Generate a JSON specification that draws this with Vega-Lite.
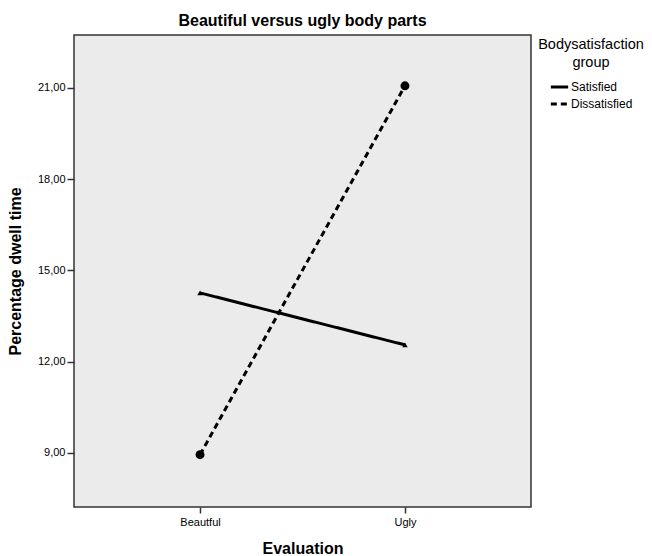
{
  "$schema": "https://vega.github.io/schema/vega-lite/v6.json",
  "autosize": {"type": "none"},
  "padding": {"left": 74, "top": 35, "right": 121, "bottom": 49},
  "width": 457,
  "height": 472,
  "background": "white",
  "config": {
    "font": "Liberation Sans",
    "view": {"fill": "#ebebeb", "stroke": "#333333", "strokeWidth": 1.5}
  },
  "title": {
    "text": "Beautiful versus ugly body parts",
    "fontSize": 16,
    "fontWeight": "bold",
    "color": "#000000",
    "anchor": "middle",
    "offset": 6
  },
  "data": {
    "values": [
      {"Evaluation": "Beautful", "group": "Satisfied", "value": 14.26},
      {"Evaluation": "Ugly", "group": "Satisfied", "value": 12.55},
      {"Evaluation": "Beautful", "group": "Dissatisfied", "value": 8.94},
      {"Evaluation": "Ugly", "group": "Dissatisfied", "value": 21.07}
    ]
  },
  "encoding": {
    "x": {
      "field": "Evaluation",
      "type": "nominal",
      "sort": ["Beautful", "Ugly"],
      "scale": {"type": "point", "padding": 0.615},
      "axis": {
        "title": "Evaluation",
        "titleFontSize": 16,
        "titleFontWeight": "bold",
        "titleColor": "#000000",
        "titlePadding": 13,
        "labelAngle": 0,
        "labelFontSize": 11,
        "labelColor": "#000000",
        "labelPadding": 3,
        "tickColor": "#333333",
        "tickSize": 6,
        "tickWidth": 1.5,
        "domain": false,
        "grid": false
      }
    },
    "y": {
      "field": "value",
      "type": "quantitative",
      "scale": {"domain": [7.22, 22.74], "nice": false, "zero": false},
      "axis": {
        "title": "Percentage dwell time",
        "titleFontSize": 16,
        "titleFontWeight": "bold",
        "titleColor": "#000000",
        "titlePadding": 14,
        "values": [9, 12, 15, 18, 21],
        "labelExpr": "replace(format(datum.value, '.2f'), '.', ',')",
        "labelFontSize": 11,
        "labelColor": "#000000",
        "labelPadding": 2,
        "tickColor": "#333333",
        "tickSize": 7,
        "tickWidth": 1.5,
        "domain": false,
        "grid": false
      }
    }
  },
  "layer": [
    {
      "mark": {"type": "line", "color": "#000000", "strokeWidth": 3},
      "encoding": {
        "detail": {"field": "group"},
        "strokeDash": {
          "field": "group",
          "type": "nominal",
          "sort": ["Satisfied", "Dissatisfied"],
          "scale": {"domain": ["Satisfied", "Dissatisfied"], "range": [[1, 0], [6, 4]]},
          "legend": {
            "title": ["Bodysatisfaction", "group"],
            "titleFontSize": 14.5,
            "titleFontWeight": "normal",
            "titleColor": "#000000",
            "titleAlign": "center",
            "titleAnchor": "middle",
            "titlePadding": 6,
            "titleLineHeight": 18,
            "labelFontSize": 12,
            "labelColor": "#000000",
            "labelOffset": 1,
            "symbolType": "stroke",
            "symbolStrokeColor": "#000000",
            "symbolStrokeWidth": 3,
            "symbolSize": 300,
            "rowPadding": 0,
            "orient": "none",
            "legendX": 464,
            "legendY": 3
          }
        }
      }
    },
    {
      "mark": {"type": "point", "filled": true, "color": "#000000", "opacity": 1},
      "encoding": {
        "shape": {
          "condition": {"test": "datum.group === 'Satisfied'", "value": "triangle-up"},
          "value": "circle"
        },
        "size": {
          "condition": {"test": "datum.group === 'Satisfied'", "value": 30},
          "value": 80
        }
      }
    }
  ]
}
